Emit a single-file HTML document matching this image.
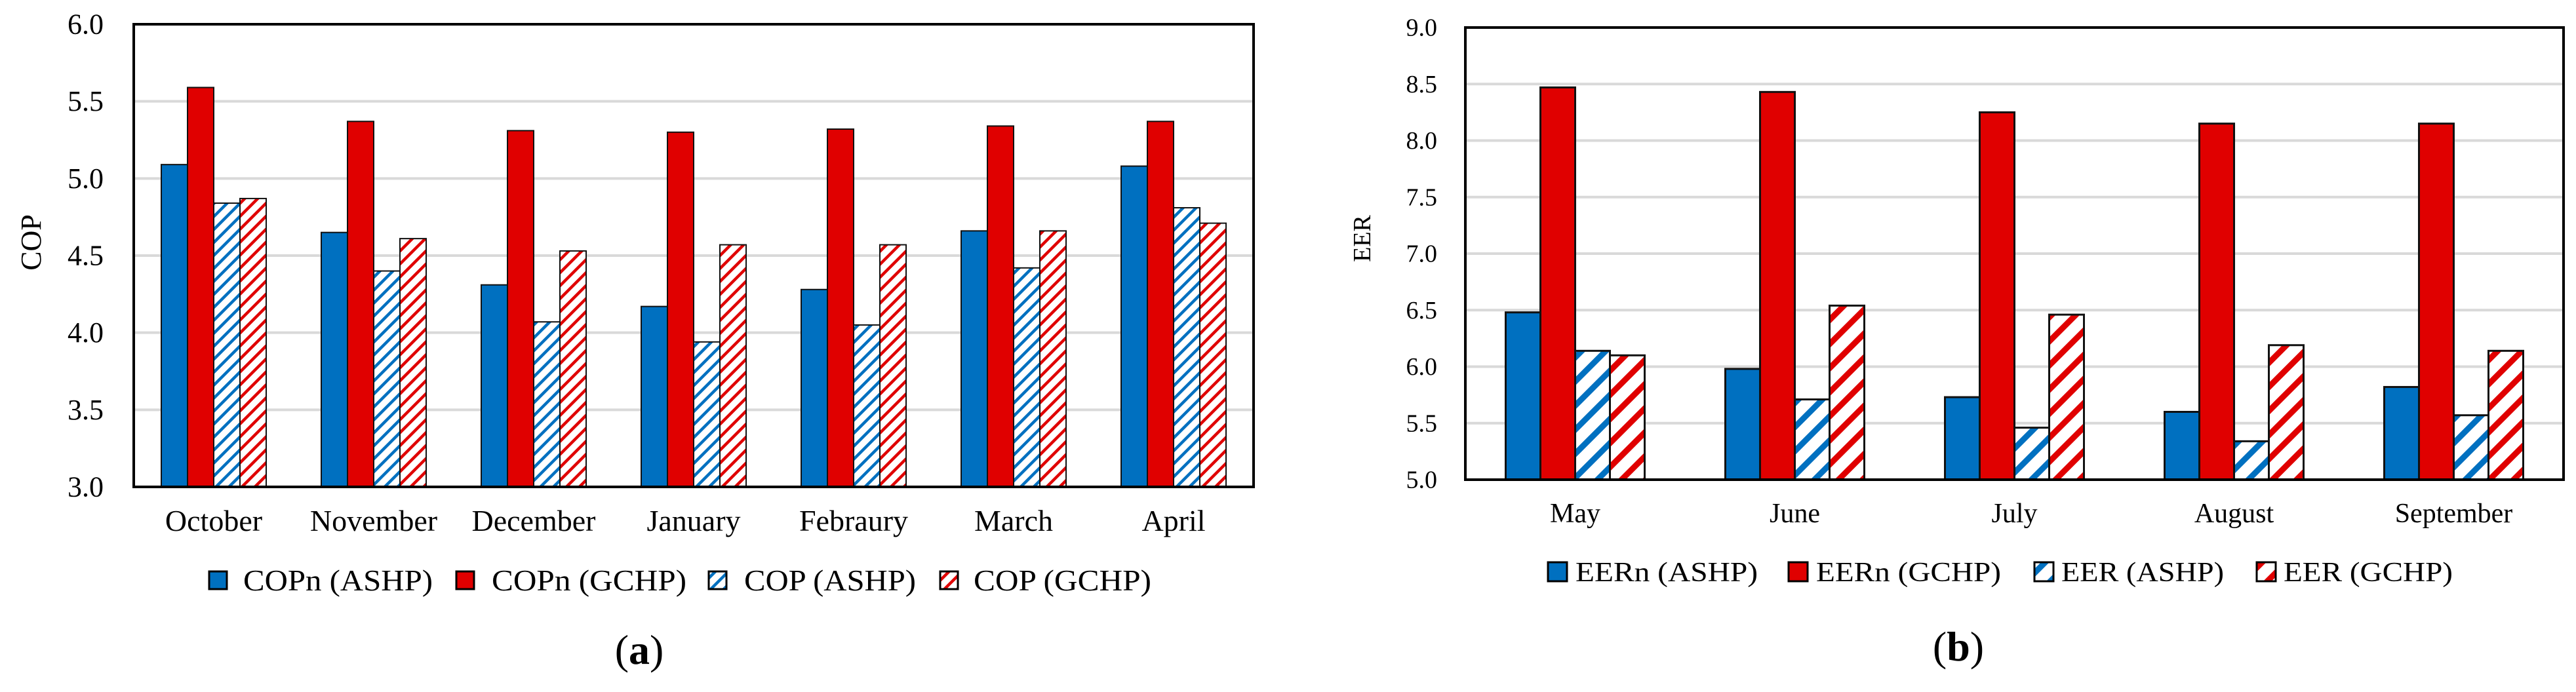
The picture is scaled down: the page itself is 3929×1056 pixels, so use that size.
<!DOCTYPE html>
<html><head><meta charset="utf-8">
<style>
html,body{margin:0;padding:0;background:#fff;}
svg{display:block;}
text{font-family:"Liberation Serif",serif;fill:#000;}
</style></head>
<body>
<svg id="fig" width="3929" height="1056" viewBox="0 0 3929 1056" xmlns="http://www.w3.org/2000/svg">
<defs>
<pattern id="hatchBlueA" patternUnits="userSpaceOnUse" width="14" height="14" patternTransform="rotate(45)">
<rect width="14" height="14" fill="#fff"/><rect x="0" y="0" width="4.5" height="14" fill="#0070c0"/></pattern>
<pattern id="hatchRedA" patternUnits="userSpaceOnUse" width="14" height="14" patternTransform="rotate(45)">
<rect width="14" height="14" fill="#fff"/><rect x="0" y="0" width="4.5" height="14" fill="#e00000"/></pattern>
<pattern id="hatchBlueB" patternUnits="userSpaceOnUse" width="26" height="26" patternTransform="rotate(45)">
<rect width="26" height="26" fill="#fff"/><rect x="0" y="0" width="9" height="26" fill="#0070c0"/></pattern>
<pattern id="hatchRedB" patternUnits="userSpaceOnUse" width="26" height="26" patternTransform="rotate(45)">
<rect width="26" height="26" fill="#fff"/><rect x="0" y="0" width="9" height="26" fill="#e00000"/></pattern>
</defs>
<g id="panelA"></g>
<g id="panelB"></g>
</svg>
<script>
// Panel (a) data
const catsA = ["October","November","December","January","Febraury","March","April"];
const copnAshp = [5.09,4.65,4.31,4.17,4.28,4.66,5.08];
const copnGchp = [5.59,5.37,5.31,5.30,5.32,5.34,5.37];
const copAshp  = [4.84,4.40,4.07,3.94,4.05,4.42,4.81];
const copGchp  = [4.87,4.61,4.53,4.57,4.57,4.66,4.71];
const ticksA = ["3.0","3.5","4.0","4.5","5.0","5.5","6.0"];
const legendA = ["COPn (ASHP)","COPn (GCHP)","COP (ASHP)","COP (GCHP)"];
// Panel (b) data
const catsB = ["May","June","July","August","September"];
const eernAshp = [6.48,5.98,5.73,5.60,5.82];
const eernGchp = [8.47,8.43,8.25,8.15,8.15];
const eerAshp  = [6.14,5.71,5.46,5.34,5.57];
const eerGchp  = [6.10,6.54,6.46,6.19,6.14];
const ticksB = ["5.0","5.5","6.0","6.5","7.0","7.5","8.0","8.5","9.0"];
const legendB = ["EERn (ASHP)","EERn (GCHP)","EER (ASHP)","EER (GCHP)"];

const NS = "http://www.w3.org/2000/svg";
function mk(parent, tag, attrs, txt){
  const e = document.createElementNS(NS, tag);
  for (const k in attrs) e.setAttribute(k, attrs[k]);
  if (txt !== undefined) e.textContent = txt;
  parent.appendChild(e);
  return e;
}

function drawPanel(cfg){
  const g = document.getElementById(cfg.id);
  const L=cfg.left, R=cfg.right, T=cfg.top, B=cfg.bottom;
  const ymin = parseFloat(cfg.ticks[0]), ymax = parseFloat(cfg.ticks[cfg.ticks.length-1]);
  const yS = v => B - (v - ymin) / (ymax - ymin) * (B - T);
  const n = cfg.cats.length, band = (R - L) / n;
  const xC = i => L + band * (i + 0.5);
  // gridlines + ticks
  cfg.ticks.forEach((t) => {
    const y = yS(parseFloat(t));
    if (parseFloat(t) !== ymin && parseFloat(t) !== ymax) {
      const gl = mk(g, "line", {x1:L, x2:R, y1:y, y2:y, stroke:"#d9d9d9", "stroke-width":4});
      
      
    }
    const tl = mk(g, "text", {x:cfg.tickX, y:y + cfg.tickFont*0.33, "font-size":cfg.tickFont, "text-anchor":"end"}, t);
    
    
  });
  // bars
  const series = cfg.series;
  series.forEach((s, si) => {
    s.vals.forEach((v, i) => {
      const x = xC(i) - 2*cfg.bw + si*cfg.bw;
      const y = yS(v);
      const r = mk(g, "rect", {x:x, y:y, width:cfg.bw, height:B - y, fill:s.fill, stroke:"#111", "stroke-width":cfg.bs});
      
      
    });
  });
  // frame
  const fr = mk(g, "rect", {x:L, y:T, width:R-L, height:B-T, fill:"none", stroke:"#000", "stroke-width":4});
  
  
  // x labels
  cfg.cats.forEach((c, i) => {
    const t = mk(g, "text", {x:xC(i), y:cfg.xLabY, "font-size":cfg.xFont, "text-anchor":"middle"}, c);
    
    
  });
  // y title
  const yt = mk(g, "text", {x:0, y:0, "font-size":cfg.tickFont, "text-anchor":"middle",
    transform:"translate(" + cfg.yTitleX + "," + cfg.yTitleY + ") rotate(-90)"}, cfg.yTitle);
  
  
  // legend
  cfg.legend.forEach((lab, i) => {
    const lg = cfg.leg[i];
    const m = mk(g, "rect", {x:lg[0], y:cfg.legY, width:cfg.legM, height:cfg.legM, fill:series[i].fill, stroke:"#000", "stroke-width":3});
    
    
    const t = mk(g, "text", {x:lg[1], y:cfg.legTextY, "font-size":cfg.legFont, textLength:lg[2]-lg[1], lengthAdjust:"spacingAndGlyphs"}, lab);
    
    
  });
  const cap = mk(g, "text", {x:cfg.capX, y:cfg.capY, "font-size":64, "text-anchor":"middle"}, "");
  
  
  mk(cap, "tspan", {}, "(");
  mk(cap, "tspan", {"font-weight":"bold"}, cfg.cap);
  mk(cap, "tspan", {}, ")");
}

drawPanel({
  id:"panelA", left:204, right:1912, top:37, bottom:743,
  ticks:ticksA, cats:catsA, tickX:158, tickFont:44, xFont:46, xLabY:810,
  bw:40, bs:2,
  series:[{key:"copn-ashp",vals:copnAshp,fill:"#0070c0"},{key:"copn-gchp",vals:copnGchp,fill:"#e00000"},
          {key:"cop-ashp",vals:copAshp,fill:"url(#hatchBlueA)"},{key:"cop-gchp",vals:copGchp,fill:"url(#hatchRedA)"}],
  yTitle:"COP", yTitleX:62, yTitleY:370,
  legend:legendA, legY:872, legM:27, legTextY:901, legFont:46,
  leg:[[319,371,660],[696,750,1047],[1081,1135,1397],[1434,1485,1756]],
  cap:"a", capX:975, capY:1013
});
drawPanel({
  id:"panelB", left:2235, right:3910, top:42, bottom:732,
  ticks:ticksB, cats:catsB, tickX:2192, tickFont:38, xFont:42, xLabY:797,
  bw:53, bs:3,
  series:[{key:"eern-ashp",vals:eernAshp,fill:"#0070c0"},{key:"eern-gchp",vals:eernGchp,fill:"#e00000"},
          {key:"eer-ashp",vals:eerAshp,fill:"url(#hatchBlueB)"},{key:"eer-gchp",vals:eerGchp,fill:"url(#hatchRedB)"}],
  yTitle:"EER", yTitleX:2090, yTitleY:364,
  legend:legendB, legY:858, legM:29, legTextY:887, legFont:42,
  leg:[[2361,2403,2681],[2728,2770,3052],[3103,3144,3392],[3442,3483,3741]],
  cap:"b", capX:2987, capY:1008
});
</script>
</body></html>
